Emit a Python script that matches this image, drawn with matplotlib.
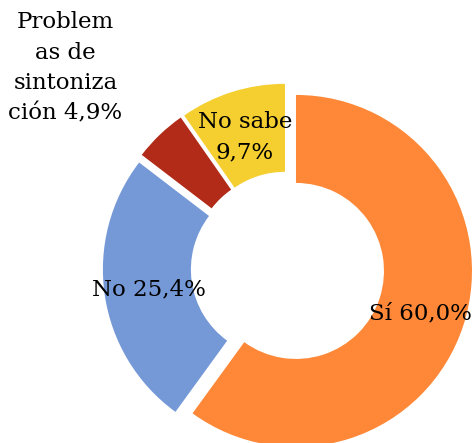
import matplotlib
matplotlib.use("Agg")
import matplotlib.pyplot as plt
import numpy as np

categories = ["Sí", "No", "Problemas de sintonización", "No sabe"]
values = [60.0, 25.4, 4.9, 9.7]
label_texts = ["Sí 60,0%", "No 25,4%", "Problem\nas de\nsintoniza\nción 4,9%", "No sabe\n9,7%"]
colors = ["#FE8837", "#7599D7", "#B12B18", "#F5CE2F"]

fig = plt.figure(figsize=(4.77, 4.43), dpi=100)
ax = fig.add_axes([0, 0, 1, 1])
ax.set_aspect("equal")
ax.axis("off")

wedges, _ = ax.pie(values, colors=colors, startangle=90, counterclock=False,
                   explode=[0.05] * 4, radius=1.0,
                   wedgeprops=dict(width=0.5, linewidth=0))
ax.set_xlim(-1.634, 1.076)
ax.set_ylim(-0.993, 1.524)

label_r = [0.80, 0.80, 1.70, 0.785]
label_da = [-0.8, 0.5, 4.2, 0.5]
for w, txt, r, da in zip(wedges, label_texts, label_r, label_da):
    ang = np.deg2rad((w.theta1 + w.theta2) / 2 + da)
    ax.text(r * np.cos(ang), r * np.sin(ang), txt, ha="center", va="center",
            fontsize=16.5, family="DejaVu Serif", linespacing=1.5)

fig.savefig("out.png", dpi=100)
